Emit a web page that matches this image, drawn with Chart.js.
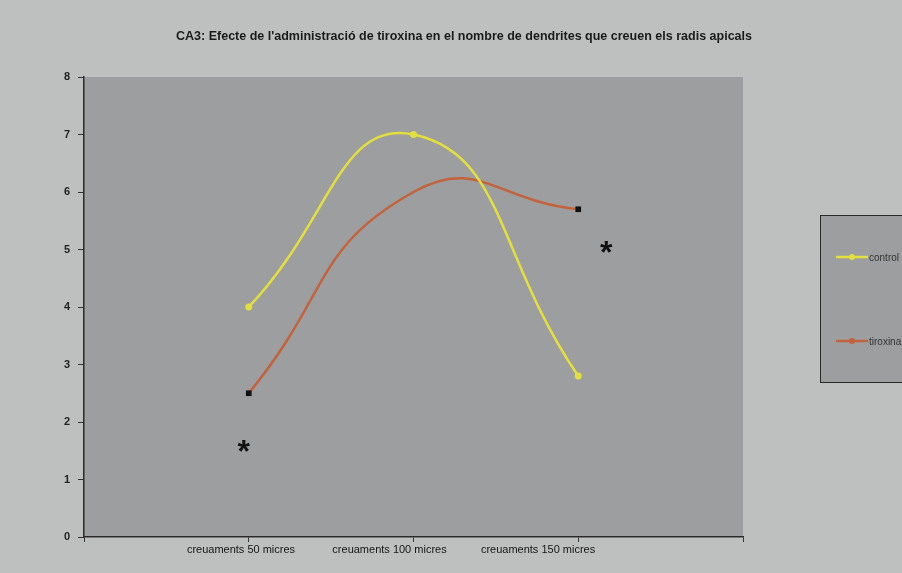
<!DOCTYPE html>
<html>
<head>
<meta charset="utf-8">
<script src="https://cdn.jsdelivr.net/npm/chart.js@4/dist/chart.umd.min.js"></script>
<style>
  html, body { margin: 0; padding: 0; background: #bec0c0; }
  #wrap { width: 902px; height: 573px; position: relative; }
</style>
</head>
<body>
<div id="wrap"><canvas id="c" width="902" height="573"></canvas></div>
<script>
// Categories and series
const categories = ['creuaments 50 micres', 'creuaments 100 micres', 'creuaments 150 micres'];
const controlValues = [4.0, 7.0, 2.8];
const tiroxinaValues = [2.5, 6.0, 5.7];
const yTicks = [0, 1, 2, 3, 4, 5, 6, 7, 8];
const titleText = "CA3: Efecte de l'administració de tiroxina en el nombre de dendrites que creuen els radis apicals";
// significance marks (category position, value)
const starX = [0.97, 3.17];
const starY = [1.6, 5.05];

const toPoints = vals => vals.map((v, i) => ({ x: i + 1, y: v }));

const FONT = '"Liberation Sans", Arial, sans-serif';

const backgroundPlugin = {
  id: 'bg',
  beforeDraw(chart) {
    const { ctx, chartArea: a } = chart;
    ctx.save();
    ctx.fillStyle = '#bec0c0';
    ctx.fillRect(0, 0, chart.width, chart.height);
    ctx.fillStyle = '#9c9e9f';
    ctx.fillRect(a.left, a.top, a.right - a.left, a.bottom - a.top);
    ctx.restore();
  }
};

const titlePlugin = {
  id: 'titleNarrow',
  afterDraw(chart) {
    const ctx = chart.ctx;
    ctx.save();
    ctx.font = 'bold 13px "Liberation Sans Narrow", "Liberation Sans", Arial, sans-serif';
    ctx.fillStyle = '#1a1a1a';
    ctx.textBaseline = 'middle';
    ctx.textAlign = 'left';
    const w = ctx.measureText(titleText).width;
    const target = 576;
    ctx.translate(176, 36);
    ctx.scale(target / w, 1);
    ctx.fillText(titleText, 0, 0);
    ctx.restore();
  }
};

const starPlugin = {
  id: 'stars',
  afterDatasetsDraw(chart) {
    const ctx = chart.ctx;
    const xs = chart.scales.x, ys = chart.scales.y;
    ctx.save();
    ctx.font = 'bold 32px ' + FONT;
    ctx.fillStyle = '#111';
    ctx.textAlign = 'center';
    ctx.textBaseline = 'middle';
    starX.forEach((sx, i) => {
      ctx.fillText('*', xs.getPixelForValue(sx), ys.getPixelForValue(starY[i]) + 8);
    });
    ctx.restore();
  }
};

const legendPlugin = {
  id: 'boxLegend',
  afterDraw(chart) {
    const ctx = chart.ctx;
    const x0 = 820, y0 = 215, w = 90, h = 168;
    ctx.save();
    ctx.fillStyle = '#9c9e9f';
    ctx.fillRect(x0, y0, w, h);
    ctx.strokeStyle = '#2a2a2a';
    ctx.lineWidth = 1;
    ctx.strokeRect(x0 + 0.5, y0 + 0.5, w, h - 1);
    const rows = [257, 341];
    chart.data.datasets.forEach((ds, i) => {
      const y = rows[i];
      ctx.strokeStyle = ds.borderColor;
      ctx.lineWidth = 2.5;
      ctx.beginPath();
      ctx.moveTo(836, y);
      ctx.lineTo(868, y);
      ctx.stroke();
      ctx.fillStyle = ds.borderColor;
      ctx.beginPath();
      ctx.arc(852, y, 3, 0, Math.PI * 2);
      ctx.fill();
      ctx.fillStyle = '#333';
      ctx.font = '10px "Liberation Sans Narrow", ' + FONT;
      ctx.textAlign = 'left';
      ctx.textBaseline = 'middle';
      ctx.fillText(ds.label, 869, y + 1);
    });
    ctx.restore();
  }
};

new Chart(document.getElementById('c'), {
  type: 'line',
  data: {
    datasets: [
      {
        label: 'control',
        data: toPoints(controlValues),
        borderColor: '#e3df3e',
        backgroundColor: '#e3df3e',
        borderWidth: 2.5,
        tension: 0.5,
        pointStyle: 'circle',
        pointRadius: 3.5,
        pointBorderWidth: 0,
        fill: false
      },
      {
        label: 'tiroxina',
        data: toPoints(tiroxinaValues),
        borderColor: '#c4623c',
        backgroundColor: '#111',
        borderWidth: 2.5,
        tension: 0.5,
        pointStyle: 'rect',
        pointRadius: [4, 0, 4],
        pointBorderWidth: 0,
        fill: false
      }
    ]
  },
  options: {
    responsive: false,
    animation: false,
    layout: { padding: { top: 77, right: 159, left: 0, bottom: 0 } },
    plugins: { legend: { display: false }, title: { display: false }, tooltip: { enabled: false } },
    scales: {
      x: {
        type: 'linear',
        position: 'bottom',
        min: 0,
        max: 4,
        afterBuildTicks: s => { s.ticks = [0, 1, 2, 3, 4].map(v => ({ value: v })); },
        afterFit: s => { s.height = 6; },
        ticks: { display: false },
        grid: { drawOnChartArea: false, tickLength: 5, color: '#333' },
        border: { display: true, color: '#2a2a2a', width: 1.5 }
      },
      xl: {
        type: 'linear',
        position: 'bottom',
        min: -0.057,
        max: 4.38,
        afterBuildTicks: s => { s.ticks = categories.map((c, i) => ({ value: i + 1 })); },
        afterFit: s => { s.height = 30; },
        ticks: {
          callback: v => categories[v - 1],
          font: { family: FONT, size: 11 },
          color: '#151515',
          padding: 0,
          maxRotation: 0,
          autoSkip: false
        },
        grid: { display: false, drawTicks: false, tickLength: 0 },
        border: { display: false }
      },
      y: {
        min: 0,
        max: 8,
        afterBuildTicks: s => { s.ticks = yTicks.map(v => ({ value: v })); },
        afterFit: s => { s.width = 84; },
        ticks: {
          font: { family: FONT, size: 11, weight: 'bold' },
          color: '#222',
          padding: 8
        },
        grid: { drawOnChartArea: false, tickLength: 6, color: '#333' },
        border: { display: true, color: '#2a2a2a', width: 1.5 }
      }
    }
  },
  plugins: [backgroundPlugin, starPlugin, legendPlugin, titlePlugin]
});
</script>
</body>
</html>
